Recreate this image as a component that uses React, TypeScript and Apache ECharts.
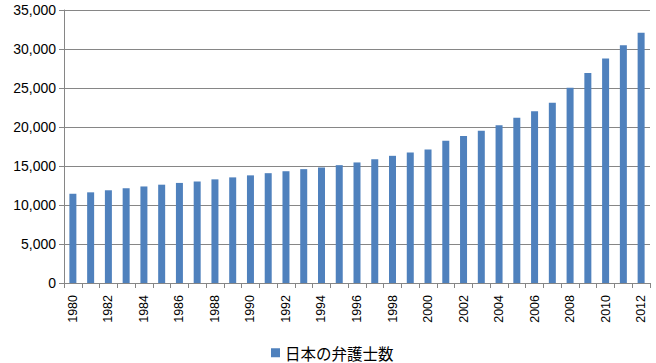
import React, { useEffect, useRef } from "react";
import * as echarts from "echarts";

const years: string[] = [
  "1980","1981","1982","1983","1984","1985","1986","1987","1988","1989",
  "1990","1991","1992","1993","1994","1995","1996","1997","1998","1999",
  "2000","2001","2002","2003","2004","2005","2006","2007","2008","2009",
  "2010","2011","2012",
];
const lawyers: number[] = [
  11441, 11624, 11888, 12132, 12377, 12604, 12830, 13013, 13288, 13541,
  13800, 14080, 14329, 14596, 14809, 15108, 15456, 15866, 16305, 16731,
  17126, 18243, 18838, 19508, 20224, 21185, 22021, 23119, 25041, 26930,
  28789, 30485, 32088,
];
const seriesName = "日本の弁護士数";

export default function App() {
  const ref = useRef<HTMLDivElement>(null);
  useEffect(() => {
    if (!ref.current) return;
    const chart = echarts.init(ref.current, null, { renderer: "svg" });
    chart.setOption({
      animation: false,
      backgroundColor: "#ffffff",
      grid: { left: 64, right: 6, top: 10, bottom: 80, containLabel: false },
      legend: {
        data: [seriesName],
        left: 266,
        top: 340,
        itemWidth: 9,
        itemHeight: 9,
        itemGap: 4,
        icon: "rect",
        textStyle: { fontFamily: "Noto Sans CJK JP", fontSize: 15.5, color: "#000" },
      },
      xAxis: {
        type: "category",
        data: years,
        boundaryGap: true,
        axisLine: { show: true, lineStyle: { color: "#868686", width: 1 } },
        axisTick: { show: true, interval: 0, length: 5, lineStyle: { color: "#868686" } },
        axisLabel: {
          interval: 1,
          rotate: 90,
          margin: 12,
          fontFamily: "Liberation Sans",
          fontSize: 12.5,
          color: "#000",
        },
      },
      yAxis: {
        type: "value",
        min: 0,
        max: 35000,
        interval: 5000,
        axisLine: { show: true, lineStyle: { color: "#868686", width: 1 } },
        axisTick: { show: true, length: 5, lineStyle: { color: "#868686" } },
        splitLine: { show: true, lineStyle: { color: "#868686", width: 1 } },
        axisLabel: {
          margin: 8,
          fontFamily: "Liberation Sans",
          fontSize: 14,
          color: "#000",
          formatter: (v: number) => v.toLocaleString("en-US"),
        },
      },
      series: [
        {
          name: seriesName,
          type: "bar",
          data: lawyers,
          barWidth: 7,
          itemStyle: { color: "#4F81BD" },
        },
      ],
    });
    return () => chart.dispose();
  }, []);
  return <div ref={ref} style={{ width: 656, height: 363, position: "absolute", left: 0, top: 0 }} />;
}
